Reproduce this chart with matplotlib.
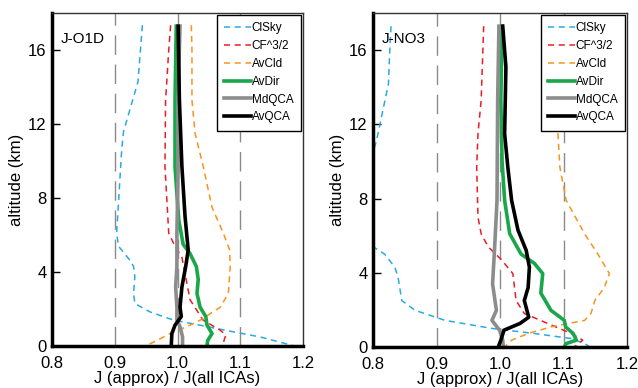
import numpy as np
import matplotlib
matplotlib.use('Agg')
import matplotlib.pyplot as plt

plt.rcParams['font.family'] = ['Liberation Sans', 'DejaVu Sans']

# ---- J-O1D panel (ratio, altitude km) ----
o1d_clsky_x = [0.944, 0.937, 0.914, 0.911, 0.903, 0.906, 0.924, 0.930, 0.932, 0.930, 0.932, 0.956, 0.994, 1.036, 1.089, 1.131, 1.187]
o1d_clsky_z = [17.35, 14.3, 11.6, 10.6, 6.1, 5.4, 4.65, 4.3, 3.75, 2.85, 2.3, 1.85, 1.4, 1.13, 0.77, 0.5, 0.0]
o1d_cf_x = [0.989, 0.986, 0.981, 0.980, 0.986, 0.996, 1.007, 1.012, 1.020, 1.041, 1.068, 1.077, 1.074, 1.073]
o1d_cf_z = [17.35, 16.0, 13.3, 9.7, 6.1, 5.4, 4.8, 3.9, 2.5, 1.4, 0.86, 0.6, 0.3, 0.0]
o1d_avcld_x = [1.022, 1.023, 1.023, 1.028, 1.041, 1.055, 1.073, 1.083, 1.084, 1.081, 1.068, 1.036, 1.015, 0.988, 0.967, 0.948]
o1d_avcld_z = [17.35, 16.0, 13.3, 11.5, 9.7, 7.5, 6.1, 5.2, 4.3, 2.85, 2.1, 1.4, 1.05, 0.68, 0.3, 0.0]
o1d_avdir_x = [0.998, 0.996, 0.996, 1.002, 1.009, 1.020, 1.030, 1.033, 1.031, 1.036, 1.045, 1.047, 1.055, 1.048, 1.047]
o1d_avdir_z = [17.3, 13.3, 9.7, 6.8, 5.5, 5.0, 4.3, 3.6, 2.85, 2.1, 1.6, 1.13, 0.68, 0.3, 0.0]
o1d_mdqca_x = [1.004, 1.002, 1.001, 0.999, 0.999, 0.997, 0.999, 0.999, 1.004, 1.008, 1.008]
o1d_mdqca_z = [17.3, 15.0, 9.7, 6.1, 4.3, 3.2, 2.1, 1.4, 1.05, 0.5, 0.0]
o1d_avqca_x = [1.001, 1.003, 1.007, 1.012, 1.017, 1.013, 1.007, 1.004, 1.006, 0.996, 0.991, 0.990]
o1d_avqca_z = [17.3, 13.3, 9.7, 7.0, 5.2, 4.3, 3.2, 2.1, 1.6, 1.13, 0.68, 0.0]

# ---- J-NO3 panel ----
no3_clsky_x = [0.828, 0.826, 0.824, 0.813, 0.805, 0.795, 0.785, 0.782, 0.790, 0.800, 0.818, 0.834, 0.839, 0.845, 0.866, 0.913, 0.986, 1.054, 1.112, 1.133, 1.141]
no3_clsky_z = [17.3, 15.95, 14.2, 12.4, 11.1, 10.0, 8.5, 7.0, 6.0, 5.4, 5.0, 4.3, 3.77, 2.5, 1.97, 1.43, 1.0, 0.72, 0.45, 0.18, 0.0]
no3_cf_x = [0.974, 0.970, 0.965, 0.963, 0.965, 0.970, 0.981, 1.002, 1.020, 1.025, 1.038, 1.075, 1.112, 1.130, 1.117]
no3_cf_z = [17.3, 13.3, 11.5, 9.7, 7.0, 6.1, 5.4, 4.7, 3.95, 2.5, 1.8, 1.26, 0.72, 0.36, 0.0]
no3_avcld_x = [1.090, 1.090, 1.091, 1.094, 1.104, 1.133, 1.154, 1.172, 1.164, 1.149, 1.143, 1.133, 1.080, 1.044, 1.018, 1.007]
no3_avcld_z = [17.3, 14.0, 11.5, 9.7, 7.9, 6.1, 5.0, 3.95, 3.2, 2.5, 1.8, 1.43, 1.08, 0.72, 0.36, 0.0]
no3_avdir_x = [1.003, 1.001, 1.003, 1.007, 1.015, 1.033, 1.054, 1.067, 1.064, 1.080, 1.101, 1.103, 1.115, 1.120, 1.104, 1.101]
no3_avdir_z = [17.3, 13.3, 10.0, 7.9, 6.1, 5.0, 4.5, 3.95, 2.9, 1.97, 1.43, 1.08, 0.72, 0.36, 0.18, 0.0]
no3_mdqca_x = [0.998, 0.996, 0.995, 0.991, 0.988, 0.994, 0.987, 0.999, 1.004, 1.005]
no3_mdqca_z = [17.3, 13.3, 7.9, 5.2, 3.4, 1.97, 1.43, 0.9, 0.36, 0.0]
no3_avqca_x = [1.004, 1.009, 1.007, 1.012, 1.018, 1.028, 1.041, 1.046, 1.044, 1.038, 1.045, 1.031, 1.006, 1.001, 0.997]
no3_avqca_z = [17.3, 15.1, 11.5, 9.7, 7.9, 6.3, 5.2, 4.3, 3.2, 2.5, 1.6, 1.26, 0.9, 0.36, 0.0]

labels = ['ClSky', 'CF^3/2', 'AvCld', 'AvDir', 'MdQCA', 'AvQCA']
colors = ['#29abe2', '#ed1c24', '#f7941d', '#1aa64a', '#8c8c8c', '#000000']
dashed = [True, True, True, False, False, False]

panels = [
    ('J-O1D', [(o1d_clsky_x, o1d_clsky_z), (o1d_cf_x, o1d_cf_z), (o1d_avcld_x, o1d_avcld_z),
               (o1d_avdir_x, o1d_avdir_z), (o1d_mdqca_x, o1d_mdqca_z), (o1d_avqca_x, o1d_avqca_z)],
     [0.0815, 0.108, 0.3935, 0.858]),
    ('J-NO3', [(no3_clsky_x, no3_clsky_z), (no3_cf_x, no3_cf_z), (no3_avcld_x, no3_avcld_z),
               (no3_avdir_x, no3_avdir_z), (no3_mdqca_x, no3_mdqca_z), (no3_avqca_x, no3_avqca_z)],
     [0.585, 0.106, 0.398, 0.860]),
]

fig = plt.figure(figsize=(6.38, 3.88), dpi=100)

for name, series, rect in panels:
    ax = fig.add_axes(rect)
    for gx in [0.9, 1.0, 1.1]:
        ax.axvline(gx, color='#8a8a8a', lw=1.0, dashes=(14, 7), zorder=0)
    for (x, z), lab, c, d in zip(series, labels, colors, dashed):
        if d:
            ax.plot(x, z, color=c, lw=1.1, dashes=(4, 3), label=lab)
        else:
            ax.plot(x, z, color=c, lw=2.6, label=lab, solid_joinstyle='round')
    ax.set_xlim(0.8, 1.2)
    ax.set_ylim(0, 18)
    ax.set_xticks([0.8, 0.9, 1.0, 1.1, 1.2])
    ax.set_xticklabels(['0.8', '0.9', '1.0', '1.1', '1.2'])
    ax.set_yticks([0, 4, 8, 12, 16])
    ax.tick_params(axis='y', direction='in', length=6, width=1, labelsize=12, pad=4)
    ax.tick_params(axis='x', length=0, labelsize=12, pad=7)
    for s in ['left', 'bottom']:
        ax.spines[s].set_linewidth(2.5)
    for s in ['top', 'right']:
        ax.spines[s].set_linewidth(1.0)
        ax.spines[s].set_color('#333333')
    ax.set_xlabel('J (approx) / J(all ICAs)', fontsize=12, labelpad=0)
    ax.set_ylabel('altitude (km)', fontsize=12, labelpad=3)
    ax.text(0.035, 0.945, name, transform=ax.transAxes, fontsize=11, va='top', ha='left')
    leg = ax.legend(loc='upper right', bbox_to_anchor=(0.99, 0.995), fontsize=8.5,
                    handlelength=2.3, handletextpad=0.05, labelspacing=0.5,
                    frameon=True, fancybox=False, borderpad=0.6, borderaxespad=0.0)
    leg.get_frame().set_edgecolor('black')
    leg.get_frame().set_linewidth(1.0)
    leg.get_frame().set_alpha(1.0)

fig.savefig('out.png', dpi=100)
